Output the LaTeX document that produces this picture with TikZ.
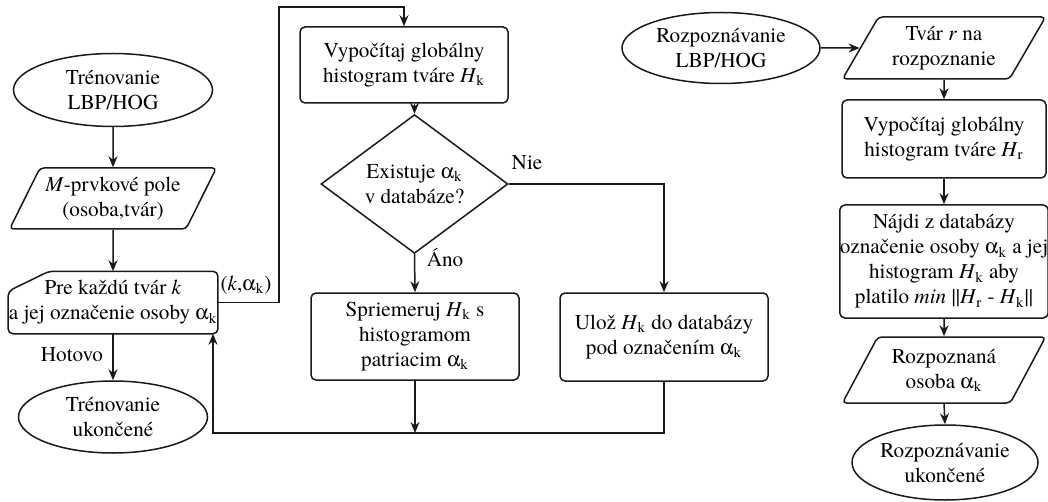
\documentclass[tikz,border=0pt]{standalone}
\usepackage{fontspec}
\IfFontExistsTF{texgyretermes-regular.otf}
  {\setmainfont{texgyretermes}[Extension=.otf,UprightFont=*-regular,
   ItalicFont=*-italic,BoldFont=*-bold,BoldItalicFont=*-bolditalic]}
  {\setmainfont{Liberation Serif}}
\usepackage[Symbol]{upgreek}
\usepackage{xcolor}
\usepackage{tikz}
\usetikzlibrary{shapes.geometric}
\usetikzlibrary{arrows.meta}
\newcommand{\Ak}{$\upalpha$\textsubscript{k}}
\newcommand{\Hs}[1]{\textit{H}\textsubscript{#1}}
\tikzstyle{Shape}=[draw=black!90,line width=.75pt,inner sep=0pt,align=center,
font=\rmfamily\fontsize{10.6}{12.5}\selectfont]
\tikzstyle{Terminal}=[Shape,ellipse]
\tikzstyle{Process}=[Shape,rectangle,rounded corners=2.5pt,minimum width=104pt]
\tikzstyle{Data}=[Shape,trapezium,trapezium left angle=57,trapezium right angle=123,
trapezium stretches=true,rounded corners=2pt,minimum width=104pt,minimum height=30.5pt]
\tikzstyle{Decision}=[Shape,diamond,minimum width=93.5pt,minimum height=51pt]
\tikzstyle{LoopBox}=[Shape,draw=none,minimum width=104pt,minimum height=30.5pt]
\tikzstyle{Edge}=[draw=black!90,line width=.75pt]
\tikzstyle{Arrow}=[Edge,-{Stealth[length=5.5pt,width=4.5pt]}]
\tikzstyle{Label}=[font=\rmfamily\fontsize{10.6}{12.5}\selectfont,inner sep=0pt]
\begin{document}
\begin{tikzpicture}[x=.5pt,y=-.5pt]
        \useasboundingbox(0,0)rectangle(1048,502);
        \node[Terminal,minimum width=99.5pt,minimum height=36.5pt](TrainStart)at(113,90)
            {Trénovanie\\LBP/HOG};
        \node[Data](Pairs)at(113,198.5){\textit{M}-prvkové pole\\(osoba,tvár)};
        \node[LoopBox](Loop)at(113,302.5)
            {Pre každú tvár \textit{k}\\a jej označenie osoby \Ak};
        \draw[Edge,rounded corners=2.5pt]([xshift=20.5pt]Loop.north west)--(Loop.north east)
            --(Loop.south east)--(Loop.south west)--([yshift=-10pt]Loop.north west)--cycle;
        \node[Terminal,minimum width=94.5pt,minimum height=36pt](TrainEnd)at(113,417)
            {Trénovanie\\ukončené};
        \node[Process,minimum height=38pt](HistK)at(404,65)
            {Vypočítaj globálny\\histogram tváre \Hs{k}};
        \node[Decision](Exists)at(414.5,184){Existuje \Ak\\v databáze?};
        \node[Process,minimum height=43.5pt](Compare)at(415,336.5)
            {Spriemeruj \Hs{k} s\\histogramom\\patriacim \Ak};
        \node[Process,minimum height=44pt](Store)at(664,337)
            {Ulož \Hs{k} do databázy\\pod označením \Ak};
        \node[Terminal,minimum width=99pt,minimum height=35.5pt](RecStart)at(721,48)
            {Rozpoznávanie\\LBP/HOG};
        \node[Data,minimum width=102pt,minimum height=31pt](Face)at(944,48)
            {Tvár \textit{r} na\\rozpoznanie};
        \node[Process,minimum width=102pt,minimum height=39pt](HistR)at(944,139)
            {Vypočítaj globálny\\histogram tváre \Hs{r}};
        \node[Process,minimum width=102pt,minimum height=56.5pt](Find)at(944,261.5)
            {Nájdi z databázy\\označenie osoby \Ak{} a jej\\histogram \Hs{k} aby\\platilo
            \textit{min} ||\Hs{r} - \Hs{k}||};
        \node[Data,minimum width=102pt,minimum height=33pt](Person)at(944,370)
            {Rozpoznaná\\osoba \Ak};
        \node[Terminal,minimum width=93pt,minimum height=37.5pt](RecEnd)at(945,462.5)
            {Rozpoznávanie\\ukončené};
        \node[Label](Done)at(72,355){Hotovo};
        \node[Label](Pair)at(246,285){(\textit{k},\Ak)};
        \node[Label](Yes)at(445,258){Áno};
        \node[Label](No)at(527,163){Nie};
        \coordinate(Up)at(279,7);
        \coordinate(Join)at(213,433);
        \draw[Arrow](TrainStart.south)--(Pairs.north);
        \draw[Arrow](Pairs.south)--(Loop.north);
        \draw[Arrow](Loop.south)--(TrainEnd.north);
        \draw[Arrow](Loop.east)-|(Up)-|(HistK.north);
        \draw[Arrow](HistK.south-|Exists.north)--(Exists.north);
        \draw[Arrow](Exists.south)--(Compare.north);
        \draw[Arrow](Exists.east)-|(Store.north);
        \draw[Arrow](Compare.south)--(Compare.south|-Join);
        \draw[Arrow](Store.south)|-(Join)--(Join|-Loop.south);
        \draw[Arrow](RecStart.east)--(Face.west);
        \draw[Arrow](Face.south)--(HistR.north);
        \draw[Arrow](HistR.south)--(Find.north);
        \draw[Arrow](Find.south)--(Person.north);
        \draw[Arrow](Person.south)--(RecEnd.north);
    \end{tikzpicture}
\end{document}
